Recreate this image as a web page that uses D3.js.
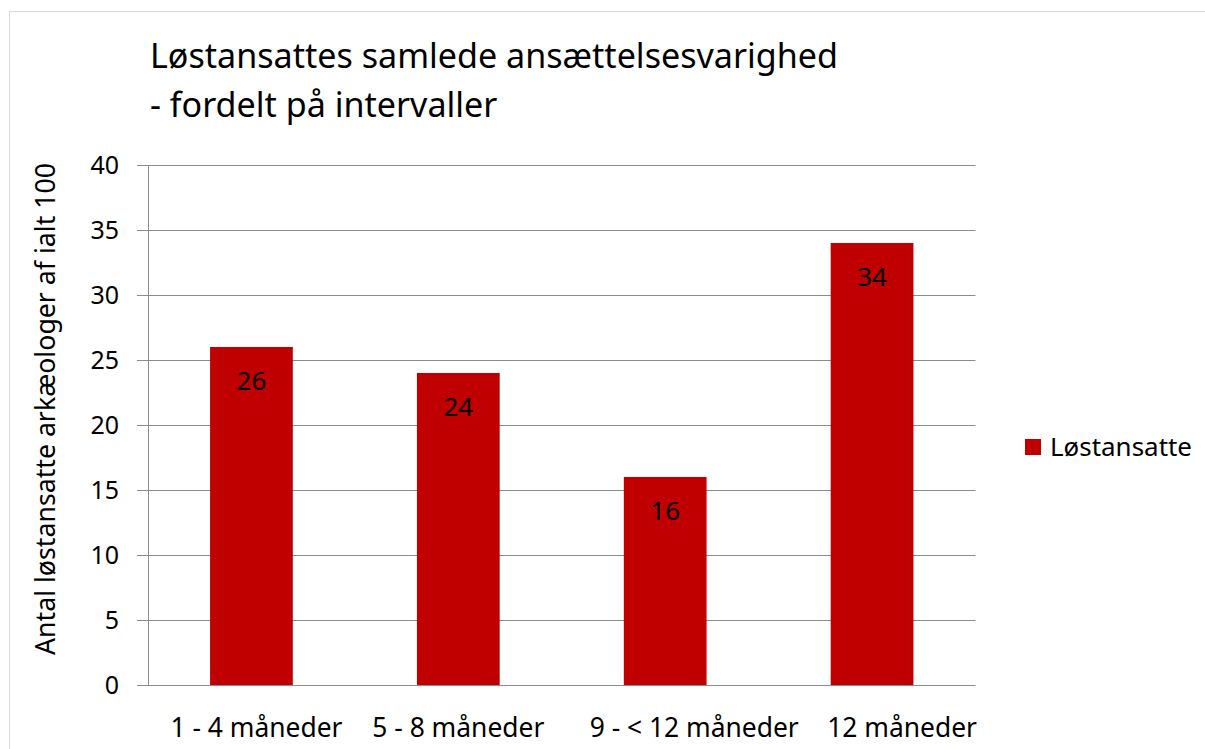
<!DOCTYPE html>
<html>
<head>
<meta charset="utf-8">
<script src="https://cdn.jsdelivr.net/npm/d3@7"></script>
<style>
  html, body { margin: 0; padding: 0; background: #fff; }
  svg { display: block; font-family: "Noto Sans", "Open Sans", sans-serif; }
</style>
</head>
<body>
<div id="chart"></div>
<script>
var categories = ["1 - 4 måneder", "5 - 8 måneder", "9 - < 12 måneder", "12 måneder"];
var values = [26, 24, 16, 34];
var yTicks = [0, 5, 10, 15, 20, 25, 30, 35, 40];
var seriesName = "Løstansatte";
var titleLines = ["Løstansattes samlede ansættelsesvarighed", "- fordelt på intervaller"];
var yTitle = "Antal løstansatte arkæologer af ialt 100";

var width = 1205, height = 749;
var plot = { left: 148, right: 975.5, top: 165, bottom: 685 };
var barColor = "#c00000";
// the original places the last two category labels a bit right of their bars
var labelNudge = [5, 0, 29, 30];

var svg = d3.select("#chart").append("svg")
    .attr("width", width)
    .attr("height", height);

// chart frame (runs off the right/bottom edge like the original)
svg.append("rect")
    .attr("x", 9.5).attr("y", 11.5)
    .attr("width", 1210).attr("height", 760)
    .attr("fill", "#fff")
    .attr("stroke", "#d9d9d9");

// shrink/grow font so that a text fills a given width
function fitWidth(sel, target) {
    var size = parseFloat(sel.attr("font-size"));
    var w = sel.node().getComputedTextLength();
    sel.attr("font-size", (size * target / w).toFixed(2));
}

var x = d3.scaleBand()
    .domain(categories)
    .range([plot.left, plot.right])
    .paddingInner(0.6)
    .paddingOuter(0.3);

var y = d3.scaleLinear()
    .domain([0, 40])
    .range([plot.bottom, plot.top]);

// gridlines
svg.append("g")
    .selectAll("line")
    .data(yTicks)
    .enter()
    .append("line")
    .attr("x1", plot.left - 11)
    .attr("x2", plot.right)
    .attr("y1", function(d) { return Math.round(y(d)) + 0.5; })
    .attr("y2", function(d) { return Math.round(y(d)) + 0.5; })
    .attr("stroke", "#8c8c8c")
    .attr("stroke-width", 1);

// y axis line
svg.append("line")
    .attr("x1", plot.left + 0.5).attr("x2", plot.left + 0.5)
    .attr("y1", plot.top).attr("y2", plot.bottom)
    .attr("stroke", "#8c8c8c");

// y tick labels
svg.append("g")
    .selectAll("text")
    .data(yTicks)
    .enter()
    .append("text")
    .attr("x", 119)
    .attr("y", function(d) { return y(d); })
    .attr("dy", "0.35em")
    .attr("text-anchor", "end")
    .attr("font-size", 25)
    .attr("fill", "#000")
    .text(function(d) { return d; });

// bars
svg.append("g")
    .selectAll("rect")
    .data(values)
    .enter()
    .append("rect")
    .attr("x", function(d, i) { return x(categories[i]); })
    .attr("y", function(d) { return y(d); })
    .attr("width", x.bandwidth())
    .attr("height", function(d) { return y(0) - y(d); })
    .attr("fill", barColor);

// value labels
svg.append("g")
    .selectAll("text")
    .data(values)
    .enter()
    .append("text")
    .attr("x", function(d, i) { return x(categories[i]) + x.bandwidth() / 2; })
    .attr("y", function(d) { return y(d) + 43; })
    .attr("text-anchor", "middle")
    .attr("font-size", 26)
    .attr("fill", "#000")
    .text(function(d) { return d; });

// x labels
var xl = svg.append("g")
    .selectAll("text")
    .data(categories)
    .enter()
    .append("text")
    .attr("x", function(d, i) { return x(d) + x.bandwidth() / 2 + labelNudge[i]; })
    .attr("y", 737)
    .attr("text-anchor", "middle")
    .attr("font-size", 22)
    .attr("fill", "#000")
    .text(function(d) { return d; });
var first = d3.select(xl.nodes()[0]);
fitWidth(first, 172);
xl.attr("font-size", first.attr("font-size"));

// title
var t1 = svg.append("text")
    .attr("x", 150).attr("y", 68)
    .attr("font-size", 32)
    .attr("fill", "#000")
    .text(titleLines[0]);
fitWidth(t1, 688);
svg.append("text")
    .attr("x", 150).attr("y", 117)
    .attr("font-size", t1.attr("font-size"))
    .attr("fill", "#000")
    .text(titleLines[1]);

// y axis title
var yt = svg.append("text")
    .attr("transform", "translate(55,409) rotate(-90)")
    .attr("text-anchor", "middle")
    .attr("font-size", 22)
    .attr("fill", "#000")
    .text(yTitle);
fitWidth(yt, 492);

// legend
svg.append("rect")
    .attr("x", 1025).attr("y", 439)
    .attr("width", 16).attr("height", 16)
    .attr("fill", barColor);
var lt = svg.append("text")
    .attr("x", 1050).attr("y", 456)
    .attr("font-size", 22)
    .attr("fill", "#000")
    .text(seriesName);
fitWidth(lt, 142);
</script>
</body>
</html>
